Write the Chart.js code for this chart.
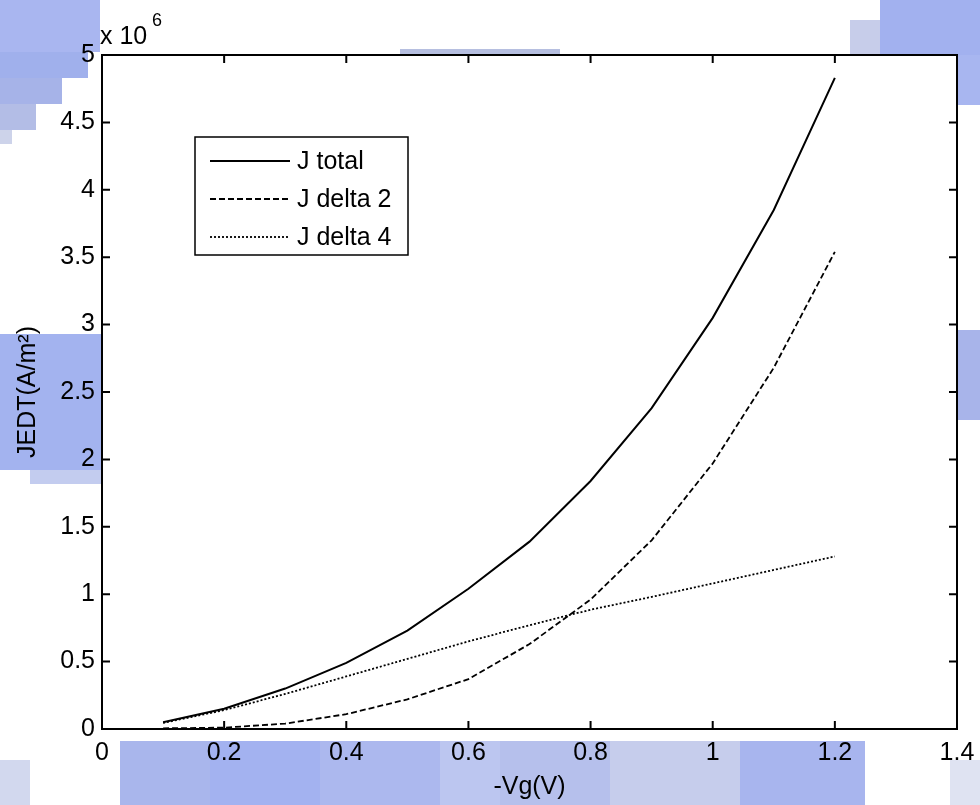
<!DOCTYPE html>
<html lang="en">
  <head>
    <meta charset="UTF-8" />
    <title>JEDT vs -Vg</title>
    <script src="https://cdn.jsdelivr.net/npm/chart.js"></script>
    <style>
      * {
        margin: 0;
        padding: 0;
        box-sizing: border-box;
      }
      body {
        background: #fff;
        width: 980px;
        height: 805px;
        overflow: hidden;
      }
      #wrap {
        width: 980px;
        height: 805px;
      }
    </style>
  </head>
  <body>
    <div id="wrap"><canvas id="jChart"></canvas></div>
    <script>
      // -Vg (V)
      const vg = [0.1, 0.2, 0.3, 0.4, 0.5, 0.6, 0.7, 0.8, 0.9, 1.0, 1.1, 1.2];
      // current densities in A/m^2
      const jTotal = [0.05e6, 0.15e6, 0.3e6, 0.49e6, 0.73e6, 1.04e6, 1.39e6, 1.84e6, 2.38e6, 3.05e6, 3.85e6, 4.83e6];
      const jDelta2 = [0.005e6, 0.01e6, 0.04e6, 0.11e6, 0.22e6, 0.37e6, 0.63e6, 0.96e6, 1.4e6, 1.97e6, 2.68e6, 3.54e6];
      const jDelta4 = [0.045e6, 0.14e6, 0.26e6, 0.39e6, 0.52e6, 0.65e6, 0.77e6, 0.885e6, 0.98e6, 1.08e6, 1.18e6, 1.28e6];
      const seriesNames = ["J total", "J delta 2", "J delta 4"];
      const xTicks = [0, 0.2, 0.4, 0.6, 0.8, 1, 1.2, 1.4];
      const yTicks = [0, 0.5, 1, 1.5, 2, 2.5, 3, 3.5, 4, 4.5, 5]; // x 10^6

      const FONT = "'Liberation Sans', Arial, sans-serif";
      const FSIZE = 25;

      const toPoints = (ys) => vg.map((x, i) => ({ x: x, y: ys[i] }));

      // faint blue pixel blocks behind the figure (watermark of the original scan)
      const watermark = {
        id: "watermark",
        beforeDraw(chart) {
          const c = chart.ctx;
          c.save();
          const blocks = [
            // top left staircase
            [0, 0, 100, 52, "#a9b6f0"], [0, 52, 88, 26, "#a0b0ec"], [0, 78, 62, 26, "#a6b3e8"],
            [0, 104, 36, 26, "#b3bde6"], [0, 130, 12, 14, "#cdd3ea"],
            // left band behind the y title
            [0, 334, 102, 136, "#a3b3ef"], [30, 470, 72, 14, "#c3ccef"],
            // bottom band
            [120, 741, 90, 64, "#a9b6ec"], [210, 741, 110, 64, "#a3b2f0"],
            [320, 741, 120, 64, "#acb8ee"], [440, 741, 60, 64, "#bcc6f0"],
            [500, 741, 110, 64, "#b6c0ec"], [610, 741, 130, 64, "#c6cdec"],
            [740, 741, 125, 64, "#a8b5ee"], [0, 760, 30, 45, "#d2d8ee"],
            [950, 760, 30, 45, "#dfe3f2"],
            // top right and right strip
            [880, 0, 100, 55, "#a2b1ef"], [850, 20, 30, 35, "#c7cdea"],
            [957, 55, 23, 50, "#a8b6f0"], [957, 330, 23, 90, "#a8b4ea"],
            [400, 49, 160, 6, "#b6bfe0"]
          ];
          blocks.forEach(([x, y, w, h, col]) => {
            c.fillStyle = col;
            c.fillRect(x, y, w, h);
          });
          const a = chart.chartArea;
          c.fillStyle = "#fff";
          c.fillRect(a.left, a.top, a.right - a.left, a.bottom - a.top);
          c.restore();
        }
      };

      // MATLAB style box, inward ticks, exponent and legend
      const matlabFrame = {
        id: "matlabFrame",
        afterDraw(chart) {
          const c = chart.ctx;
          const a = chart.chartArea;
          const xs = chart.scales.x;
          const ys = chart.scales.y;
          c.save();
          c.strokeStyle = "#000";
          c.lineWidth = 2;
          c.strokeRect(a.left, a.top, a.right - a.left, a.bottom - a.top);
          c.beginPath();
          xTicks.forEach((t) => {
            const px = xs.getPixelForValue(t);
            c.moveTo(px, a.bottom);
            c.lineTo(px, a.bottom - 8);
            c.moveTo(px, a.top);
            c.lineTo(px, a.top + 8);
          });
          yTicks.forEach((t) => {
            const py = ys.getPixelForValue(t * 1e6);
            c.moveTo(a.left, py);
            c.lineTo(a.left + 8, py);
            c.moveTo(a.right, py);
            c.lineTo(a.right - 8, py);
          });
          c.stroke();

          // exponent label
          c.fillStyle = "#000";
          c.textBaseline = "alphabetic";
          c.textAlign = "left";
          c.font = FSIZE + "px " + FONT;
          c.fillText("x 10", 100, 44);
          c.font = "18px " + FONT;
          c.fillText("6", 152, 26);

          // legend
          const lx = 195, ly = 137, lw = 213, lh = 118;
          c.fillStyle = "#fff";
          c.fillRect(lx, ly, lw, lh);
          c.lineWidth = 1.5;
          c.strokeRect(lx, ly, lw, lh);
          chart.data.datasets.forEach((ds, i) => {
            const y = ly + 24 + i * 38;
            c.beginPath();
            c.setLineDash(ds.borderDash || []);
            c.lineWidth = ds.borderWidth;
            c.moveTo(210, y);
            c.lineTo(290, y);
            c.stroke();
            c.setLineDash([]);
            c.fillStyle = "#000";
            c.font = FSIZE + "px " + FONT;
            c.textBaseline = "middle";
            c.fillText(ds.label, 297, y + 1);
          });
          c.restore();
        }
      };

      const ctx = document.getElementById("jChart").getContext("2d");
      new Chart(ctx, {
        type: "line",
        data: {
          datasets: [
            {
              label: seriesNames[0],
              data: toPoints(jTotal),
              borderColor: "#000",
              borderWidth: 2,
              pointRadius: 0,
              tension: 0,
              fill: false
            },
            {
              label: seriesNames[1],
              data: toPoints(jDelta2),
              borderColor: "#000",
              borderWidth: 1.8,
              borderDash: [6, 3],
              pointRadius: 0,
              tension: 0,
              fill: false
            },
            {
              label: seriesNames[2],
              data: toPoints(jDelta4),
              borderColor: "#000",
              borderWidth: 1.8,
              borderDash: [2, 2],
              pointRadius: 0,
              tension: 0,
              fill: false
            }
          ]
        },
        options: {
          responsive: true,
          maintainAspectRatio: false,
          animation: false,
          layout: { padding: { top: 55, right: 23, left: 0, bottom: 0 } },
          plugins: {
            legend: { display: false },
            tooltip: { enabled: false }
          },
          scales: {
            x: {
              type: "linear",
              min: 0,
              max: 1.4,
              afterBuildTicks: (s) => { s.ticks = xTicks.map((v) => ({ value: v })); },
              afterFit: (s) => {
                s.height = 76;
                s.paddingLeft = 0;
                s.paddingRight = 0;
              },
              grid: { display: false, drawTicks: false },
              border: { display: true, color: "#000", width: 2 },
              ticks: {
                color: "#000",
                padding: 9,
                font: { family: FONT, size: FSIZE },
                callback: (v) => String(Math.round(v * 10) / 10)
              },
              title: {
                display: true,
                text: "-Vg(V)",
                color: "#000",
                font: { family: FONT, size: FSIZE },
                padding: { top: 0, bottom: 3 }
              }
            },
            y: {
              min: 0,
              max: 5e6,
              afterBuildTicks: (s) => { s.ticks = yTicks.map((v) => ({ value: v * 1e6 })); },
              afterFit: (s) => {
                s.width = 102;
                s.paddingTop = 0;
                s.paddingBottom = 0;
              },
              grid: { display: false, drawTicks: false },
              border: { display: true, color: "#000", width: 2 },
              ticks: {
                color: "#000",
                padding: 7,
                font: { family: FONT, size: FSIZE },
                callback: (v) => String(Math.round(v / 1e5) / 10)
              },
              title: {
                display: true,
                text: "JEDT(A/m²)",
                color: "#000",
                font: { family: FONT, size: FSIZE },
                padding: { top: 13, bottom: 0 }
              }
            }
          }
        },
        plugins: [watermark, matlabFrame]
      });
    </script>
  </body>
</html>
